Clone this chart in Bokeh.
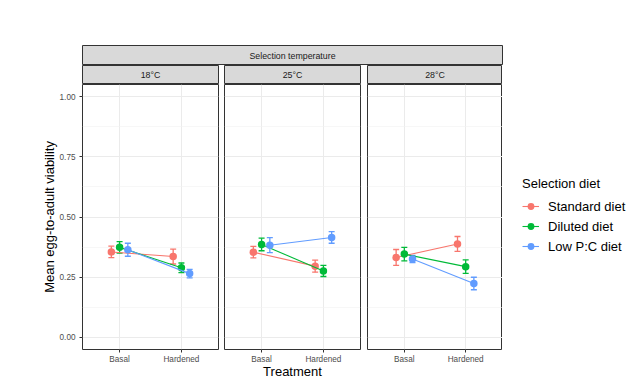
from bokeh.plotting import figure
from bokeh.models import (Range1d, FixedTicker, Label, Legend, LegendItem, Whisker,
                          TeeHead, ColumnDataSource, NumeralTickFormatter)
from bokeh.layouts import row, column
from bokeh.embed import file_html
from bokeh.resources import INLINE

# ---------------- data ----------------
temperatures = ["18°C", "25°C", "28°C"]
treatments = ["Basal", "Hardened"]
diets = ["Standard diet", "Diluted diet", "Low P:C diet"]

# order: (18 Basal, 18 Hardened, 25 Basal, 25 Hardened, 28 Basal, 28 Hardened)
standard_mean = [0.355, 0.336, 0.354, 0.296, 0.332, 0.388]
standard_se = [0.024, 0.031, 0.024, 0.025, 0.033, 0.031]
diluted_mean = [0.374, 0.289, 0.386, 0.276, 0.346, 0.294]
diluted_se = [0.024, 0.020, 0.026, 0.023, 0.028, 0.028]
lowpc_mean = [0.364, 0.265, 0.383, 0.415, 0.326, 0.224]
lowpc_se = [0.027, 0.018, 0.031, 0.024, 0.015, 0.026]

y_ticks = [0.0, 0.25, 0.5, 0.75, 1.0]
y_minor = [0.125, 0.375, 0.625, 0.875]

means = [standard_mean, diluted_mean, lowpc_mean]
ses = [standard_se, diluted_se, lowpc_se]
colors = ["#F8766D", "#00BA38", "#619CFF"]
dodge_width = 0.4

FONT = "Liberation Sans"

# ---------------- layout geometry ----------------
left_w = 82
frame_ws = [136, 136, 135]
lefts = [left_w, 3, 3]
rights = [3, 4, 0]
frame_h = 265
bottom_h = 34
strip_h = 19
top_border = 45
legend_w = 134

figs = []
strips = []
for k, temp in enumerate(temperatures):
    w = lefts[k] + frame_ws[k] + rights[k]
    p = figure(width=w, height=frame_h + bottom_h, output_backend="svg", toolbar_location=None,
               x_range=Range1d(0.4, 2.6), y_range=Range1d(-0.05, 1.05),
               y_axis_location="left" if k == 0 else None,
               min_border_left=lefts[k], min_border_right=rights[k],
               min_border_top=0, min_border_bottom=bottom_h)
    p.background_fill_color = "white"
    p.border_fill_color = "white"
    p.outline_line_color = "#333333"
    p.outline_line_width = 1

    p.xaxis.ticker = FixedTicker(ticks=[1, 2])
    p.xaxis.major_label_overrides = {i + 1: t for i, t in enumerate(treatments)}
    p.xaxis.major_label_text_font = FONT
    p.xaxis.major_label_text_font_size = "8.2px"
    p.xaxis.major_label_text_color = "#4D4D4D"
    p.xaxis.major_label_standoff = 2
    p.xaxis.major_tick_out = 3
    p.xaxis.major_tick_in = 0
    p.xaxis.major_tick_line_color = "#333333"
    p.xaxis.minor_tick_line_color = None
    p.xaxis.axis_line_color = None
    if k == 1:
        p.xaxis.axis_label = "Treatment"
        p.xaxis.axis_label_text_font = FONT
        p.xaxis.axis_label_text_font_size = "13px"
        p.xaxis.axis_label_text_font_style = "normal"
        p.xaxis.axis_label_text_color = "#000000"
        p.xaxis.axis_label_standoff = -3

    if k == 0:
        p.yaxis.ticker = FixedTicker(ticks=y_ticks, minor_ticks=y_minor)
        p.yaxis.formatter = NumeralTickFormatter(format="0.00")
        p.yaxis.major_label_text_font = FONT
        p.yaxis.major_label_text_font_size = "8.2px"
        p.yaxis.major_label_text_color = "#4D4D4D"
        p.yaxis.major_label_standoff = 3
        p.yaxis.major_tick_out = 3
        p.yaxis.major_tick_in = 0
        p.yaxis.major_tick_line_color = "#333333"
        p.yaxis.minor_tick_line_color = None
        p.yaxis.axis_line_color = None
        p.yaxis.axis_label = "Mean egg-to-adult viability"
        p.yaxis.axis_label_text_font = FONT
        p.yaxis.axis_label_text_font_size = "13px"
        p.yaxis.axis_label_text_font_style = "normal"
        p.yaxis.axis_label_text_color = "#000000"
        p.yaxis.axis_label_standoff = 0

    p.xgrid.ticker = FixedTicker(ticks=[1, 2])
    p.xgrid.grid_line_color = "#EBEBEB"
    p.xgrid.grid_line_width = 1
    p.ygrid.ticker = FixedTicker(ticks=y_ticks, minor_ticks=y_minor)
    p.ygrid.grid_line_color = "#EBEBEB"
    p.ygrid.grid_line_width = 1
    p.ygrid.minor_grid_line_color = "#F2F2F2"
    p.ygrid.minor_grid_line_width = 0.6

    for d, diet in enumerate(diets):
        off = (d - 1) * dodge_width / 3.0
        xs = [treatments.index(t) + 1 + off for t in treatments]
        ys = [means[d][2 * k + j] for j in range(2)]
        es = [ses[d][2 * k + j] for j in range(2)]
        src = ColumnDataSource(dict(x=xs, y=ys,
                                    lower=[y - e for y, e in zip(ys, es)],
                                    upper=[y + e for y, e in zip(ys, es)]))
        p.line("x", "y", source=src, line_color=colors[d], line_width=1.1)
        wh = Whisker(source=src, base="x", lower="lower", upper="upper", dimension="height",
                     line_color=colors[d], line_width=1.3,
                     upper_head=TeeHead(size=6, line_color=colors[d], line_width=1.3),
                     lower_head=TeeHead(size=6, line_color=colors[d], line_width=1.3))
        p.add_layout(wh)
        p.scatter("x", "y", source=src, size=7.5, fill_color=colors[d], line_color=None)
    figs.append(p)

    s = figure(width=w, height=strip_h, output_backend="svg", toolbar_location=None,
               x_range=Range1d(0, 1), y_range=Range1d(0, 1),
               x_axis_location=None, y_axis_location=None,
               min_border_left=lefts[k], min_border_right=rights[k],
               min_border_top=0, min_border_bottom=0)
    s.grid.visible = False
    s.background_fill_color = "#D9D9D9"
    s.border_fill_color = "white"
    s.outline_line_color = "#333333"
    s.outline_line_width = 1
    s.add_layout(Label(x=0.5, y=0.5, text=temp, text_align="center", text_baseline="middle",
                       text_font=FONT, text_font_size="8.8px", text_color="#1A1A1A"))
    strips.append(s)

# ---------------- legend panel (own figure, glyphs kept outside its view) ----------------
leg_h = strip_h + frame_h + bottom_h
lf = figure(width=legend_w, height=leg_h, output_backend="svg", toolbar_location=None,
            x_range=Range1d(-10, -9), y_range=Range1d(-10, -9),
            x_axis_location=None, y_axis_location=None,
            min_border_left=0, min_border_right=0, min_border_top=0, min_border_bottom=0)
lf.grid.visible = False
lf.outline_line_color = None
lf.background_fill_color = "white"
lf.border_fill_color = "white"
legend_items = []
for d, diet in enumerate(diets):
    off = (d - 1) * dodge_width / 3.0
    src = ColumnDataSource(dict(x=[treatments.index(t) + 1 + off for t in treatments],
                                y=means[d][4:6]))
    lr = lf.line("x", "y", source=src, line_color=colors[d], line_width=1.1)
    sr = lf.scatter("x", "y", source=src, size=6.5, fill_color=colors[d], line_color=None)
    legend_items.append(LegendItem(label=diet, renderers=[lr, sr]))

legend = Legend(items=legend_items, location=(20, 127), title="Selection diet",
                title_text_font=FONT, title_text_font_size="13px", title_text_font_style="normal",
                title_text_color="#000000", title_standoff=5,
                label_text_font=FONT, label_text_font_size="13px", label_text_color="#000000",
                glyph_width=17, glyph_height=20, label_height=20, label_standoff=9,
                spacing=0, padding=0, margin=0, border_line_color=None,
                background_fill_alpha=0)
lf.add_layout(legend, "center")

total_w = sum(lefts) + sum(frame_ws) + sum(rights) + legend_w
top = figure(width=total_w, height=top_border + 20, output_backend="svg", toolbar_location=None,
             x_range=Range1d(0, 1), y_range=Range1d(0, 1),
             x_axis_location=None, y_axis_location=None,
             min_border_left=left_w, min_border_right=legend_w,
             min_border_top=top_border, min_border_bottom=0)
top.grid.visible = False
top.background_fill_color = "#D9D9D9"
top.border_fill_color = "white"
top.outline_line_color = "#333333"
top.outline_line_width = 1
top.add_layout(Label(x=0.5, y=0.5, text="Selection temperature", text_align="center",
                     text_baseline="middle", text_font=FONT, text_font_size="8.8px",
                     text_color="#1A1A1A"))

layout = column(top, row(*[column(strips[k], figs[k]) for k in range(3)], lf))

open("out.html", "w").write(file_html(layout, INLINE))
